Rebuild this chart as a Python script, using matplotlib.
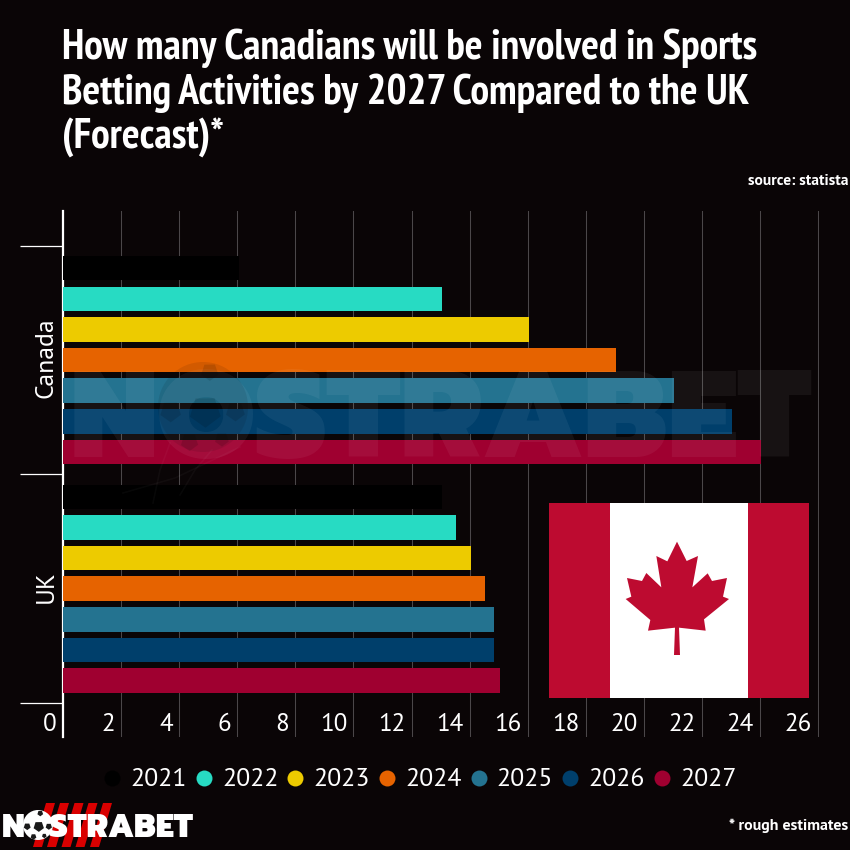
import matplotlib
matplotlib.use('Agg')
import matplotlib.pyplot as plt
import numpy as np
from matplotlib.lines import Line2D
from matplotlib.patches import Circle, Polygon, Rectangle
from matplotlib.transforms import ScaledTranslation

countries = ['UK', 'Canada']
years = ['2021', '2022', '2023', '2024', '2025', '2026', '2027']
uk_values = [13.05, 13.52, 14.05, 14.52, 14.85, 14.85, 15.05]
canada_values = [6.05, 13.05, 16.05, 19.05, 21.05, 23.05, 24.05]
year_colors = ['#000000', '#27dbc3', '#edcb00', '#e66300', '#247390', '#003f6b', '#9f0030']
x_ticks = list(range(0, 27, 2))

# maple leaf outline, in pixels of the figure
leaf_x = [441, 470, 504, 487, 533, 546, 591, 579, 597, 522, 527, 447, 450, 432, 435, 354, 361, 287, 304, 291, 336, 349, 394, 379, 412]
leaf_y = [545, 603, 588, 682, 640, 663, 654, 710, 717, 778, 812, 803, 885, 885, 803, 812, 780, 717, 710, 654, 663, 639, 682, 588, 604]

BG = '#0a0506'
TITLE_FONT = ['PT Sans Narrow', 'Liberation Sans', 'DejaVu Sans']
BODY_FONT = ['PT Sans', 'Lato', 'DejaVu Sans']
LOGO_FONT = ['Prompt', 'Poppins', 'Lato', 'DejaVu Sans']


def draw_ball(over, x, y, r, face='white', panel='#1a1a1a', alpha=1.0, panel_alpha=1.0):
    over.add_patch(Circle((x, y), r, color=face, alpha=alpha, lw=0, zorder=3))
    # a few dark panels
    for dx, dy, s in [(0.05, 0.1, 0.36), (-0.72, 0.1, 0.24), (0.72, 0.1, 0.22), (0.15, -0.78, 0.2), (-0.3, 0.78, 0.2), (0.42, 0.72, 0.16)]:
        angles = np.linspace(0, 2 * np.pi, 6)[:-1] + 0.3
        px = x + r * (dx + s * np.cos(angles))
        py = y + r * (dy + s * np.sin(angles))
        over.add_patch(Polygon(np.column_stack([px, py]), color=panel, alpha=panel_alpha, lw=0, zorder=3))


def draw_flag(over):
    over.add_patch(Rectangle((549, 503), 260, 195, color='#bd0b30', lw=0, zorder=5))
    over.add_patch(Rectangle((610, 503), 138, 195, color='white', lw=0, zorder=6))
    pts = np.column_stack([530 + np.array(leaf_x) / 3, 360 + np.array(leaf_y) / 3])
    over.add_patch(Polygon(pts, color='#bd0b30', lw=0, zorder=7))


def draw_logo(over):
    for x0 in [46, 60, 74.5, 88.5, 103]:
        over.add_patch(Polygon([(x0, 803), (x0 + 9, 803), (x0 - 4, 847), (x0 - 13, 847)],
                               color='#d90000', lw=0, zorder=3))
    over.text(2, 837, 'NOSTRABET', color='white', fontsize=23, fontweight='black',
              family=LOGO_FONT, va='baseline', ha='left', zorder=3)
    draw_ball(over, 38, 825, 15)


def draw_watermark(over):
    over.text(70, 457, 'NOSTRABET', color='white', alpha=0.055, fontsize=89, fontweight='black',
              family=LOGO_FONT, ha='left', va='baseline', zorder=2)
    draw_ball(over, 203, 407, 45, face=BG, panel='black', alpha=0.09, panel_alpha=0.12)
    # signature scribble under the ball
    for xs, ys in [((123, 175, 240), (493, 478, 447)), ((153, 160, 170), (503, 470, 443)), ((180, 195, 212), (495, 470, 450))]:
        over.plot(xs, ys, color='white', alpha=0.03, lw=1.2, zorder=2)


def main():
    fig = plt.figure(figsize=(8.5, 8.5), dpi=100, facecolor=BG)
    ax = fig.add_axes([63 / 850, 1 - 737 / 850, 756 / 850, 526 / 850], facecolor=BG)

    bar_step = 0.134
    bar_height = 0.1077
    for i, year in enumerate(years):
        offset = (3 - i) * bar_step
        ax.barh([0 + offset, 1 + offset], [uk_values[i], canada_values[i]], height=bar_height,
                color=year_colors[i], zorder=3)

    ax.set_xlim(0, 26.03)
    ax.set_ylim(-0.648, 1.652)
    ax.set_xticks(x_ticks)
    ax.set_yticks([0, 1])
    ax.set_yticklabels(countries, rotation=90, va='center', fontsize=18.5, color='white', family=BODY_FONT)
    ax.set_yticks([-0.5, 0.5, 1.5], minor=True)
    ax.tick_params(axis='y', which='major', length=0, pad=4)
    ax.tick_params(axis='y', which='minor', length=31, width=0.9, color='white')
    ax.tick_params(axis='x', length=0, pad=-17, labelsize=18, labelcolor='white')
    shift = ScaledTranslation(-6 / 100, 0, fig.dpi_scale_trans)
    for label in ax.get_xticklabels():
        label.set_ha('right')
        label.set_family(BODY_FONT)
        label.set_transform(label.get_transform() + shift)
    shift_up = ScaledTranslation(0, 2 / 100, fig.dpi_scale_trans)
    for label in ax.get_yticklabels():
        label.set_transform(label.get_transform() + shift_up)
    ax.grid(axis='x', color='#4b4749', lw=0.75, zorder=1)
    ax.set_axisbelow(True)
    for side in ['top', 'right', 'bottom']:
        ax.spines[side].set_visible(False)
    ax.spines['left'].set_color('white')
    ax.spines['left'].set_linewidth(1.6)

    handles = [Line2D([], [], ls='', marker='o', ms=11.5, mec='none', color=c) for c in year_colors]
    fig.legend(handles, years, ncol=7, loc='center', bbox_to_anchor=(420 / 850, 1 - 780 / 850), frameon=False,
               labelcolor='white', prop={'family': BODY_FONT, 'size': 18.5}, handlelength=0.66,
               handletextpad=0.38, columnspacing=0.33, borderpad=0)

    # overlay in pixels for the title, the flag and the branding
    over = fig.add_axes([0, 0, 1, 1], facecolor='none')
    over.set_xlim(0, 850)
    over.set_ylim(850, 0)
    over.axis('off')

    over.text(62, 59, 'How many Canadians will be involved in Sports', color='white', fontsize=30.1,
              fontweight='bold', family=TITLE_FONT, va='baseline')
    over.text(62, 104, 'Betting Activities by 2027 Compared to the UK', color='white', fontsize=30.1,
              fontweight='bold', family=TITLE_FONT, va='baseline')
    over.text(62, 149, '(Forecast)*', color='white', fontsize=30.1,
              fontweight='bold', family=TITLE_FONT, va='baseline')
    over.text(849, 181, 'source: statista', color='white', fontsize=11.2, fontweight='bold',
              family=BODY_FONT, ha='right', va='center')
    over.text(848, 826, '* rough estimates', color='white', fontsize=11.4, fontweight='bold',
              family=BODY_FONT, ha='right', va='center')

    draw_watermark(over)
    draw_flag(over)
    draw_logo(over)

    fig.savefig('out.png', dpi=100, facecolor=BG)


if __name__ == '__main__':
    main()
